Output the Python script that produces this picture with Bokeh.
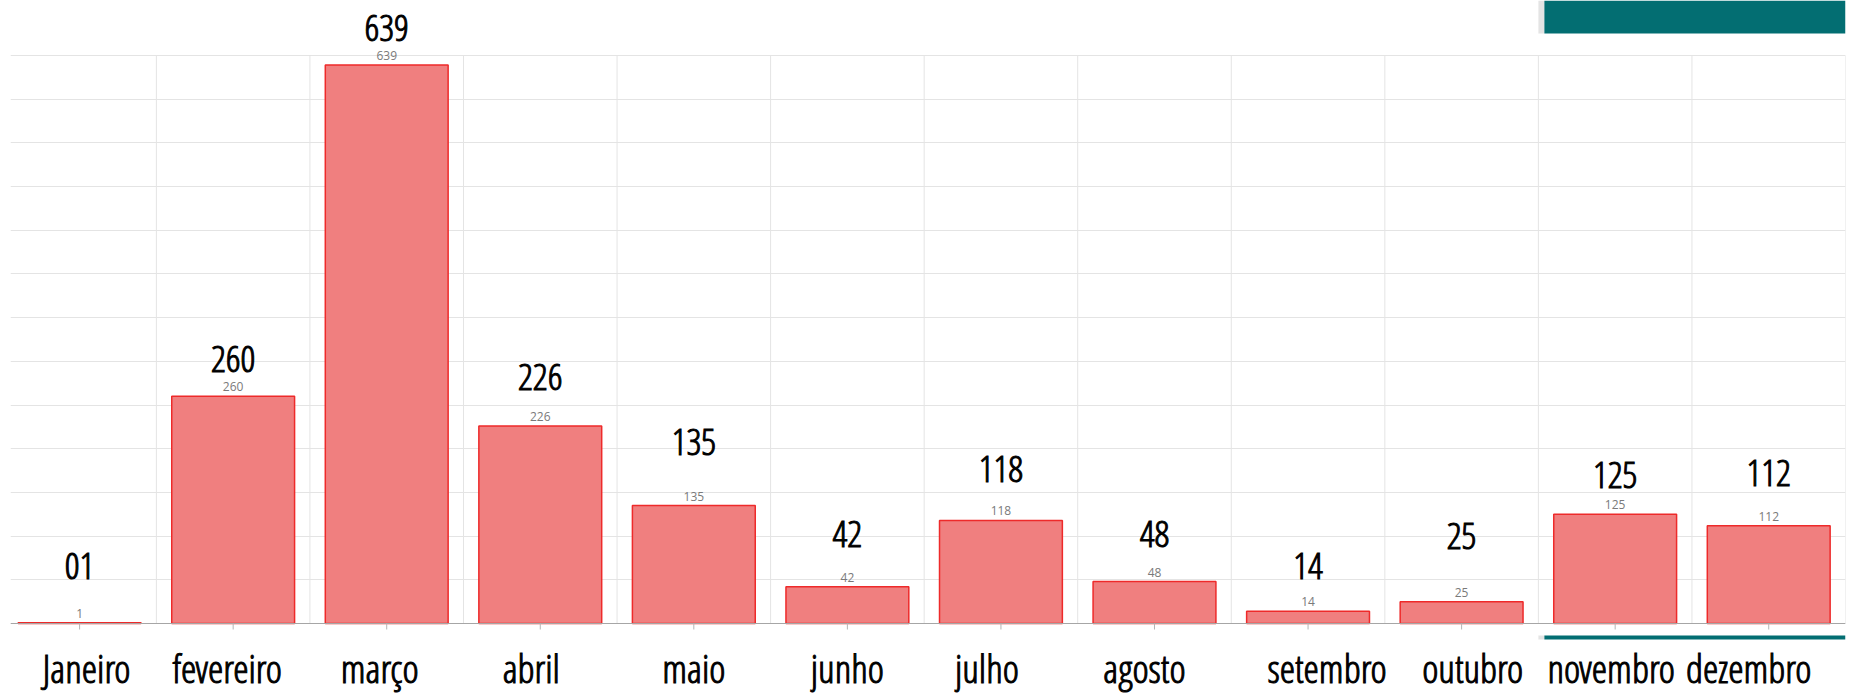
from bokeh.plotting import figure
from bokeh.models import (ColumnDataSource, LabelSet, BoxAnnotation,
                          Grid, SingleIntervalTicker, Range1d)
from bokeh.core.properties import value
from bokeh.embed import file_html
from bokeh.resources import INLINE

# ---- data ----
months = ["Janeiro", "fevereiro", "março", "abril", "maio", "junho",
          "julho", "agosto", "setembro", "outubro", "novembro", "dezembro"]
counts = [1, 260, 639, 226, 135, 42, 118, 48, 14, 25, 125, 112]
big_labels = ["01", "260", "639", "226", "135", "42", "118", "48", "14", "25", "125", "112"]
y_max = 650
y_step = 50

# ---- styling ----
W, H = 1849, 694
FRAME_L, FRAME_R = 10, 1845
BASE_PX, TOP_PX = 623, 55
big_gap = [44, 24, 24, 36, 51, 40, 38, 35, 32, 53, 26, 40]
month_dx = [7, -6, -7, -9, 0, 0, -14, -10, 19, 11, -4, -20]
COND = "Open Sans Condensed Light"
GRID = "#e4e4e4"
TEAL = "#036E72"

n = len(months)
x_start, x_end = -0.45, n - 0.5
k = (BASE_PX - TOP_PX) / y_max
y_start = -(H - BASE_PX) / k
y_end = y_max + TOP_PX / k
tick_len = 6 / k

src = ColumnDataSource(dict(
    x=list(range(n)), v=counts, small=[str(c) for c in counts], big=big_labels,
    gap=big_gap, month=months, mdx=month_dx, zero=[0] * n,
))

p = figure(width=W, height=H, output_backend="svg", toolbar_location=None,
           x_range=Range1d(x_start, x_end), y_range=Range1d(y_start, y_end),
           x_axis_location=None, y_axis_location=None,
           min_border_left=FRAME_L, min_border_right=W - FRAME_R,
           min_border_top=0, min_border_bottom=0)
p.outline_line_color = None
p.xgrid.visible = False
p.ygrid.visible = False

p.add_layout(Grid(dimension=1, ticker=SingleIntervalTicker(interval=y_step),
                  bounds=(0, y_max), grid_line_color=GRID))
bounds_x = [i + 0.5 for i in range(n)]
p.segment(x0=bounds_x, y0=0, x1=bounds_x, y1=y_max, line_color=GRID, line_width=1)

p.vbar(x="x", top="v", width=0.8, source=src,
       fill_color="#F07F7F", line_color="#EE2A2A", line_width=1.5)

p.segment(x0=[x_start], y0=[0], x1=[x_end], y1=[0], line_color="#a6a6a6", line_width=1.2)
p.segment(x0="x", y0=0, x1="x", y1=-tick_len, source=src, line_color="#b5b5b5", line_width=1)

p.add_layout(LabelSet(x="x", y="v", text="small", source=src, y_offset=5,
                      text_align="center", text_baseline="alphabetic",
                      text_font=value("Open Sans"), text_font_size="12px",
                      text_color="#7a7a7a"))
p.add_layout(LabelSet(x="x", y="v", text="big", source=src, y_offset="gap",
                      text_align="center", text_baseline="alphabetic",
                      text_font=value(COND), text_font_size="37px",
                      text_color="#000000", text_outline_color="#000000"))
p.add_layout(LabelSet(x="x", y="zero", text="month", source=src,
                      x_offset="mdx", y_offset=-59,
                      text_align="center", text_baseline="alphabetic",
                      text_font=value(COND), text_font_size="39px",
                      text_color="#000000", text_outline_color="#000000"))

p.add_layout(BoxAnnotation(left=n - 2.5, right=n - 2.5 + 6 / 153.6,
                           bottom=y_max + 22 / k, fill_color="#d8d8d8", fill_alpha=0.7,
                           line_color=None))
p.add_layout(BoxAnnotation(left=n - 2.5 + 6 / 153.6, bottom=y_max + 22 / k,
                           fill_color=TEAL, fill_alpha=1, line_color=None))
p.add_layout(BoxAnnotation(left=n - 2.5, right=n - 2.5 + 6 / 153.6,
                           bottom=-16 / k, top=-12 / k,
                           fill_color="#d8d8d8", fill_alpha=0.7, line_color=None))
p.add_layout(BoxAnnotation(left=n - 2.5 + 6 / 153.6, bottom=-16 / k, top=-12 / k,
                           fill_color=TEAL, fill_alpha=1, line_color=None))

open("out.html", "w").write(file_html(p, INLINE))
